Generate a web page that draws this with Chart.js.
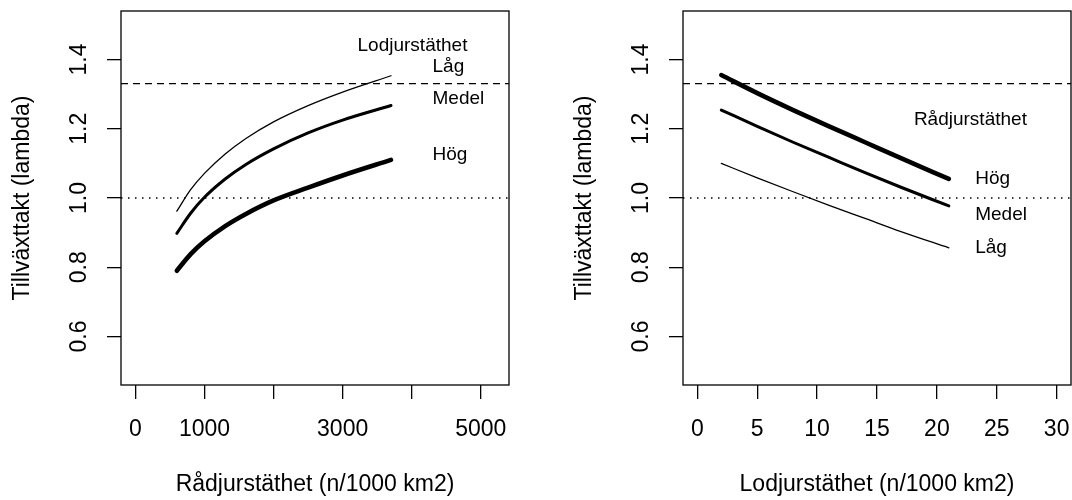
<!DOCTYPE html>
<html>
<head>
<meta charset="utf-8">
<script src="https://cdn.jsdelivr.net/npm/chart.js@4"></script>
<style>
body { margin: 0; background: #fff; overflow: hidden; }
.panel { position: absolute; top: 0; height: 500px; }
</style>
</head>
<body>
<div class="panel" style="left:0;width:536px"><canvas id="leftChart" width="536" height="500"></canvas></div>
<div class="panel" style="left:536px;width:560px"><canvas id="rightChart" width="560" height="500"></canvas></div>
<script>
// left panel: lambda vs rådjurstäthet, one curve per lodjur level
const radjurDensity = [600, 800, 1000, 1300, 1600, 2000, 2500, 3000, 3700];
const lambdaLodjurLag = [0.962, 1.024, 1.071, 1.127, 1.172, 1.220, 1.267, 1.306, 1.353];
const lambdaLodjurMedel = [0.898, 0.956, 1.002, 1.055, 1.097, 1.142, 1.188, 1.225, 1.267];
const lambdaLodjurHog = [0.790, 0.838, 0.875, 0.919, 0.954, 0.993, 1.030, 1.065, 1.110];
const radjurTicks = [0, 1000, 2000, 3000, 4000, 5000];
const radjurTicksShown = [0, 1000, 3000, 5000];

// right panel: lambda vs lodjurstäthet, one curve per rådjur level
const lodjurDensity = [2, 5, 8, 11, 14, 17, 21];
const lambdaRadjurHog = [1.355, 1.303, 1.254, 1.207, 1.161, 1.115, 1.055];
const lambdaRadjurMedel = [1.254, 1.207, 1.161, 1.117, 1.073, 1.031, 0.977];
const lambdaRadjurLag = [1.100, 1.058, 1.018, 0.979, 0.941, 0.903, 0.856];
const lodjurTicks = [0, 5, 10, 15, 20, 25, 30];

const lambdaTicks = [0.6, 0.8, 1.0, 1.2, 1.4];

// reference lines
const dashedLevel = 1.33;
const dottedLevel = 1.0;

const FONT = '"Liberation Sans", Arial, Helvetica, sans-serif';

function pts(xs, ys) {
    return xs.map((x, i) => ({ x: x, y: ys[i] }));
}

function curve(xs, ys, width) {
    return {
        data: pts(xs, ys),
        borderColor: '#000',
        borderWidth: width,
        borderCapStyle: 'round',
        borderJoinStyle: 'round',
        pointRadius: 0,
        cubicInterpolationMode: 'monotone',
        fill: false
    };
}

function refLine(xMin, xMax, level, dash, width) {
    return {
        data: [{ x: xMin, y: level }, { x: xMax, y: level }],
        borderColor: '#000',
        borderWidth: width,
        borderDash: dash,
        pointRadius: 0,
        fill: false
    };
}

function makePanel(id, p) {
    const decor = {
        id: 'decor_' + id,
        afterDraw(chart) {
            const ctx = chart.ctx;
            const a = chart.chartArea;
            const xs = chart.scales.x, ys = chart.scales.y;
            ctx.save();
            ctx.strokeStyle = '#000';
            ctx.lineWidth = 1.3;
            ctx.strokeRect(a.left, a.top, a.right - a.left, a.bottom - a.top);

            // y tick labels, rotated like base R
            ctx.fillStyle = '#000';
            ctx.font = '23px ' + FONT;
            ctx.textAlign = 'center';
            ctx.textBaseline = 'middle';
            ys.ticks.forEach(t => {
                const py = ys.getPixelForValue(t.value);
                ctx.save();
                ctx.translate(a.left - 41, py);
                ctx.rotate(-Math.PI / 2);
                ctx.fillText(t.value.toFixed(1), 0, 0);
                ctx.restore();
            });

            // curve labels
            ctx.font = '19px ' + FONT;
            p.notes.forEach(n => {
                ctx.textAlign = n.align;
                ctx.fillText(n.text, xs.getPixelForValue(n.x), ys.getPixelForValue(n.y));
            });
            ctx.restore();
        }
    };

    return new Chart(document.getElementById(id), {
        type: 'line',
        data: {
            datasets: [
                refLine(p.xMin, p.xMax, dashedLevel, [7, 5], 1.3),
                refLine(p.xMin, p.xMax, dottedLevel, [1.5, 5.5], 1.3)
            ].concat(p.curves)
        },
        options: {
            responsive: false,
            devicePixelRatio: 1,
            animation: false,
            layout: { padding: p.padding },
            plugins: { legend: { display: false }, tooltip: { enabled: false } },
            scales: {
                x: {
                    type: 'linear',
                    min: p.xMin,
                    max: p.xMax,
                    border: { display: false },
                    grid: { drawOnChartArea: false, drawTicks: true, tickLength: 14, color: '#000', lineWidth: 1.3 },
                    ticks: {
                        autoSkip: false,
                        maxRotation: 0,
                        padding: 17,
                        color: '#000',
                        font: { family: FONT, size: 23 },
                        callback: p.xLabel
                    },
                    afterBuildTicks: s => { s.ticks = p.xTicks.map(v => ({ value: v })); },
                    title: {
                        display: true,
                        text: p.xTitle,
                        color: '#000',
                        font: { family: FONT, size: 23 },
                        padding: { top: 0, bottom: 2 }
                    },
                    afterFit: s => { s.height = 115; }
                },
                y: {
                    type: 'linear',
                    min: 0.46,
                    max: 1.54,
                    border: { display: false },
                    grid: { drawOnChartArea: false, drawTicks: true, tickLength: 14, color: '#000', lineWidth: 1.3 },
                    ticks: { display: false },
                    afterBuildTicks: s => { s.ticks = lambdaTicks.map(v => ({ value: v })); },
                    title: {
                        display: true,
                        text: 'Tillväxttakt (lambda)',
                        color: '#000',
                        font: { family: FONT, size: 23 },
                        padding: { top: 9, bottom: 0 }
                    },
                    afterFit: s => { s.width = 121; }
                }
            }
        },
        plugins: [decor]
    });
}

makePanel('leftChart', {
    xMin: -208, xMax: 5408,
    xTicks: radjurTicks,
    xLabel: v => radjurTicksShown.includes(v) ? String(v) : '',
    xTitle: 'Rådjurstäthet (n/1000 km2)',
    padding: { left: 0, right: 27, top: 11, bottom: 0 },
    curves: [
        curve(radjurDensity, lambdaLodjurLag, 1.3),
        curve(radjurDensity, lambdaLodjurMedel, 3),
        curve(radjurDensity, lambdaLodjurHog, 4.6)
    ],
    notes: [
        { text: 'Lodjurstäthet', x: 4011, y: 1.439, align: 'center' },
        { text: 'Låg', x: 4301, y: 1.379, align: 'left' },
        { text: 'Medel', x: 4301, y: 1.288, align: 'left' },
        { text: 'Hög', x: 4301, y: 1.124, align: 'left' }
    ]
});

makePanel('rightChart', {
    xMin: -1.2, xMax: 31.2,
    xTicks: lodjurTicks,
    xLabel: v => String(v),
    xTitle: 'Lodjurstäthet (n/1000 km2)',
    padding: { left: 26, right: 25, top: 11, bottom: 0 },
    curves: [
        curve(lodjurDensity, lambdaRadjurHog, 4.6),
        curve(lodjurDensity, lambdaRadjurMedel, 3),
        curve(lodjurDensity, lambdaRadjurLag, 1.3)
    ],
    notes: [
        { text: 'Rådjurstäthet', x: 22.8, y: 1.225, align: 'center' },
        { text: 'Hög', x: 23.2, y: 1.055, align: 'left' },
        { text: 'Medel', x: 23.2, y: 0.951, align: 'left' },
        { text: 'Låg', x: 23.2, y: 0.856, align: 'left' }
    ]
});
</script>
</body>
</html>
